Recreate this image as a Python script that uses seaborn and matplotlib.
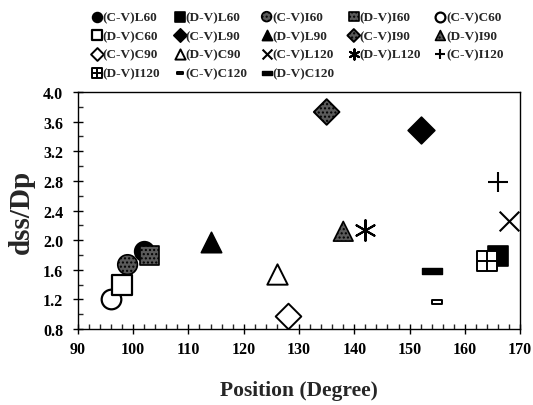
import numpy as np
import matplotlib
matplotlib.use("Agg")
import matplotlib.pyplot as plt
from matplotlib.path import Path
import seaborn as sns

# Series names, positions (degree) and dss/Dp values
labels = ["(C-V)L60", "(D-V)L60", "(C-V)I60", "(D-V)I60", "(C-V)C60",
          "(D-V)C60", "(C-V)L90", "(D-V)L90", "(C-V)I90", "(D-V)I90",
          "(C-V)C90", "(D-V)C90", "(C-V)L120", "(D-V)L120", "(C-V)I120",
          "(D-V)I120", "(C-V)C120", "(D-V)C120"]
position = [102, 166, 99, 103, 96,
            98, 152, 114, 135, 138,
            128, 126, 168, 142, 166,
            164, 155, 154]
dss_dp = [1.86, 1.79, 1.67, 1.79, 1.21,
          1.39, 3.49, 1.97, 3.73, 2.12,
          0.97, 1.54, 2.26, 2.14, 2.79,
          1.72, 1.16, 1.58]

x_ticks = [90, 100, 110, 120, 130, 140, 150, 160, 170]
y_ticks = [0.8, 1.2, 1.6, 2.0, 2.4, 2.8, 3.2, 3.6, 4.0]

# Custom marker shapes
boxed_plus = Path(
    [(-1, -1), (1, -1), (1, 1), (-1, 1), (-1, -1),
     (0, -1), (0, 1), (-1, 0), (1, 0)],
    [Path.MOVETO, Path.LINETO, Path.LINETO, Path.LINETO, Path.CLOSEPOLY,
     Path.MOVETO, Path.LINETO, Path.MOVETO, Path.LINETO])
thick_dash = Path([(-1, -0.3), (1, -0.3), (1, 0.3), (-1, 0.3), (-1, -0.3)],
                  [Path.MOVETO, Path.LINETO, Path.LINETO, Path.LINETO, Path.CLOSEPOLY])
small_dash = Path([(-1, -0.45), (1, -0.45), (1, 0.45), (-1, 0.45), (-1, -0.45)],
                  [Path.MOVETO, Path.LINETO, Path.LINETO, Path.LINETO, Path.CLOSEPOLY])

K, W, G = "black", "white", "#5a5a5a"
# marker, size (pt^2), face colour, line width, hatch
styles = [
    ("o", 200, K, 1.2, None),
    ("s", 200, K, 1.2, None),
    ("o", 200, G, 1.2, "...."),
    ("s", 190, G, 1.2, "...."),
    ("o", 200, W, 1.6, None),
    ("s", 200, W, 1.6, None),
    ("D", 185, K, 1.2, None),
    ("^", 215, K, 1.2, None),
    ("D", 170, G, 1.4, "...."),
    ("^", 200, G, 1.2, "...."),
    ("D", 170, W, 1.4, None),
    ("^", 215, W, 1.4, None),
    ("x", 200, K, 1.5, None),
    ((6, 2, 0), 220, K, 1.5, None),
    ("+", 200, K, 1.5, None),
    (boxed_plus, 190, W, 1.4, None),
    (small_dash, 62, W, 1.4, None),
    (thick_dash, 210, K, 1.0, None),
]

sns.set_style("ticks")
plt.rcParams["font.family"] = ["Liberation Serif", "DejaVu Serif"]
plt.rcParams["font.weight"] = "bold"
plt.rcParams["hatch.linewidth"] = 1.0
plt.rcParams["hatch.color"] = "#d0d0d0"

fig = plt.figure(figsize=(5.33, 4.06), dpi=100)
ax = fig.add_axes([0.146, 0.187, 0.83, 0.584])

for lab, xv, yv, (mk, sz, fc, lw, hatch) in zip(labels, position, dss_dp, styles):
    line_art = mk in ("x", "+") or isinstance(mk, tuple)
    kw = dict(marker=mk, s=sz, linewidth=lw, label=lab, zorder=3)
    if line_art:
        kw.update(color=K)
    else:
        kw.update(facecolor=fc, edgecolor=K)
    sns.scatterplot(x=[xv], y=[yv], ax=ax, legend=False, **kw)
    if hatch:
        ax.collections[-1].set_hatch(hatch)

ax.set_xlim(90, 170)
ax.set_ylim(0.8, 4.0)
ax.set_xticks(x_ticks)
ax.set_yticks(y_ticks)
ax.set_xticklabels([str(v) for v in x_ticks])
ax.set_yticklabels([f"{v:.1f}" for v in y_ticks])
ax.set_xticks(np.arange(90, 171, 2), minor=True)
ax.set_yticks(np.arange(0.8, 4.01, 0.2), minor=True)
ax.tick_params(which="major", direction="inout", length=7, width=1.0,
               labelsize=11.5, colors="black")
ax.tick_params(axis="x", which="major", pad=5)
ax.tick_params(axis="y", which="major", pad=7)
ax.tick_params(which="minor", direction="in", length=3.5, width=1.0)
for side in ["top", "right", "left", "bottom"]:
    ax.spines[side].set_visible(True)
    ax.spines[side].set_linewidth(1.0)
    ax.spines[side].set_color("black")

ax.set_xlabel("Position (Degree)", fontsize=15.5, fontweight="bold", labelpad=17)
ax.set_ylabel("dss/Dp", fontsize=21, fontweight="bold", labelpad=6)

handles, labs = ax.get_legend_handles_labels()
order = [0, 5, 10, 15, 1, 6, 11, 16, 2, 7, 12, 17, 3, 8, 13, 4, 9, 14]
fig.legend([handles[i] for i in order], [labs[i] for i in order],
           loc="upper left", bbox_to_anchor=(0.152, 1.0), ncol=5,
           frameon=False, markerscale=0.5, handlelength=0.6,
           handletextpad=0.15, columnspacing=1.15, labelspacing=0.5,
           prop={"size": 9.5, "weight": "bold"})

fig.savefig("out.png", dpi=100)
